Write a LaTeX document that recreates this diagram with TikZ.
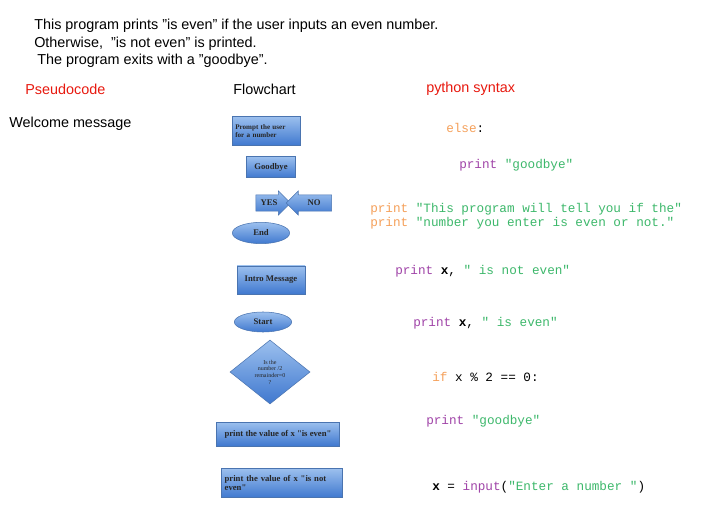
\documentclass[tikz,border=0pt]{standalone}
\usepackage{fontspec}
\setmainfont{Liberation Sans}
\newfontfamily\ser{Liberation Serif}
\newfontfamily\mono{Liberation Mono}
\usetikzlibrary{shapes.geometric,shapes.arrows}
\definecolor{org}{HTML}{F5A05A}
\definecolor{grn}{HTML}{3DB86B}
\definecolor{pur}{HTML}{A044A8}
\definecolor{redt}{HTML}{E8190F}
\definecolor{btop}{HTML}{9CC0EE}
\definecolor{bbot}{HTML}{3F78CF}
\definecolor{bdr}{HTML}{4A74B0}
\begin{document}
\begin{tikzpicture}[x=0.75pt,y=-0.75pt,
  bx/.style={top color=btop,bottom color=bbot,draw=bdr,
     inner sep=1pt,font=\ser\bfseries\fontsize{6.5}{7}\selectfont,text=black!85},
  tx/.style={anchor=west,inner sep=0pt,font=\fontsize{10.8}{12}\selectfont},
  cd/.style={anchor=west,inner sep=0pt,font=\mono\fontsize{9.5}{11}\selectfont}]
\useasboundingbox (0,0) rectangle (710,520);
\fill[white] (0,0) rectangle (710,520);
\node[tx] (h1) at (34,26) {This program prints "is even" if the user inputs an even number.};
\node[tx] (h2) at (34,44) {Otherwise,\ \ "is not even" is printed.};
\node[tx] (h3) at (37,61) {The program exits with a "goodbye".};
\node[tx,text=redt] (p) at (25,89) {Pseudocode};
\node[tx] (f) at (233,89) {Flowchart};
\node[tx,text=redt] (py) at (426,89) {python syntax};
\node[tx] (w) at (9,124) {Welcome message};
% flowchart shapes
\node[bx,minimum width=51pt,minimum height=22pt,align=left,text width=46pt,font=\ser\bfseries\fontsize{5.3}{6}\selectfont] (pr) at (266,131) {Prompt the user\\for a number};
\node[bx,minimum width=37pt,minimum height=16pt] (gb) at (271,167) {Goodbye};
\node[bx,single arrow,single arrow head extend=2.5pt,minimum width=18pt,minimum height=26pt,inner xsep=0.5pt,inner ysep=3pt] (yes) at (269,203) {YES};
\node[bx,single arrow,shape border rotate=180,single arrow head extend=2.5pt,minimum width=18pt,minimum height=34pt,inner xsep=0.5pt,inner ysep=3pt] (no) at (313,203) {\ \ NO\ \ };
\node[bx,ellipse,minimum width=43pt,minimum height=16pt,inner sep=0pt] (end) at (261,233) {End};
\node[bx,minimum width=51pt,minimum height=21pt] (intro) at (271,280) {Intro Message};
\node[bx,ellipse,minimum width=43pt,minimum height=15pt,inner sep=0pt] (st) at (263,322) {Start};
\node[bx,diamond,minimum width=60pt,minimum height=48pt,inner sep=0pt,align=center,font=\ser\fontsize{4.5}{5}\selectfont] (dm) at (270,372) {Is the\\number /2\\remainder=0\\?};
\node[bx,minimum width=92pt,minimum height=18pt] (pe) at (278,434) {print the value of x "is even"};
\node[bx,minimum width=91pt,minimum height=22pt,align=left,text width=86pt] (pne) at (282,483) {print the value of x "is not\\even"};
% python
\node[cd] (c1) at (446,128) {\textcolor{org}{else}:};
\node[cd] (c2) at (459,165) {\textcolor{pur}{print} \textcolor{grn}{"goodbye"}};
\node[cd] (c3) at (370,209) {\textcolor{org}{print} \textcolor{grn}{"This program will tell you if the"}};
\node[cd] (c4) at (370,223) {\textcolor{org}{print} \textcolor{grn}{"number you enter is even or not."}};
\node[cd] (c5) at (395,271) {\textcolor{pur}{print} \textbf{x}, \textcolor{grn}{" is not even"}};
\node[cd] (c6) at (413,323) {\textcolor{pur}{print} \textbf{x}, \textcolor{grn}{" is even"}};
\node[cd] (c7) at (432,377) {\textcolor{org}{if} x \% 2 == 0:};
\node[cd] (c8) at (426,421) {\textcolor{pur}{print} \textcolor{grn}{"goodbye"}};
\node[cd] (c9) at (432,487) {\textbf{x} = \textcolor{pur}{input}(\textcolor{grn}{"Enter a number "})};
\end{tikzpicture}
\end{document}
